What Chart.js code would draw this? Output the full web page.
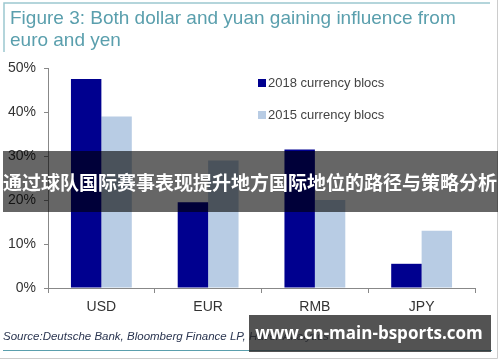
<!DOCTYPE html>
<html>
<head>
<meta charset="utf-8">
<script src="https://cdn.jsdelivr.net/npm/chart.js@4"></script>
<style>
  html, body { margin: 0; padding: 0; background: #fff; }
  #wrap { width: 500px; height: 362px; position: relative; }
</style>
</head>
<body>
<div id="wrap"><canvas id="currencies" width="500" height="362"></canvas></div>
<script>
// chart data
const categories = ['USD', 'EUR', 'RMB', 'JPY'];
const blocs2018 = [47.5, 19.5, 31.5, 5.5];
const blocs2015 = [39, 29, 20, 13];
const seriesLabels = ['2018 currency blocs', '2015 currency blocs'];
const yTicks = [0, 10, 20, 30, 40, 50];
const titleLines = ['Figure 3: Both dollar and yuan gaining influence from', 'euro and yen'];
const sourceText = 'Source:Deutsche Bank, Bloomberg Finance LP, Haver Analytics';
const bannerText = '通过球队国际赛事表现提升地方国际地位的路径与策略分析';
const watermarkText = 'www.cn-main-bsports.com';

const darkBlue = '#00008f';
const lightBlue = '#b8cce4';
const teal = '#5a9fad';

// title, legend, source line
const decorations = {
  id: 'decorations',
  beforeDraw(chart) {
    const ctx = chart.ctx;
    ctx.save();
    ctx.fillStyle = '#fff';
    ctx.fillRect(0, 0, chart.width, chart.height);
    // frame
    ctx.strokeStyle = '#9cc7cf';
    ctx.lineWidth = 1.5;
    ctx.beginPath();
    ctx.moveTo(4, 52); ctx.lineTo(4, 3); ctx.lineTo(490, 3);
    ctx.stroke();
    ctx.fillStyle = teal;
    ctx.font = '19px "Liberation Sans", Arial, sans-serif';
    ctx.textBaseline = 'middle';
    ctx.fillText(titleLines[0], 10, 19);
    ctx.fillText(titleLines[1], 10, 41);
    // source
    ctx.fillStyle = '#2a3550';
    ctx.font = 'italic 11.5px "Liberation Sans", Arial, sans-serif';
    ctx.fillText(sourceText, 3, 337);
    ctx.strokeStyle = teal;
    ctx.lineWidth = 1;
    ctx.beginPath();
    ctx.moveTo(3, 350.5); ctx.lineTo(492, 350.5);
    ctx.stroke();
    ctx.strokeStyle = '#ccc';
    ctx.beginPath();
    ctx.moveTo(497.5, 0); ctx.lineTo(497.5, 358.5); ctx.lineTo(0, 358.5);
    ctx.stroke();
    ctx.restore();
  },
  afterDatasetsDraw(chart) {
    const ctx = chart.ctx;
    ctx.save();
    // legend
    ctx.font = '13px "Liberation Sans", Arial, sans-serif';
    ctx.textBaseline = 'middle';
    chart.data.datasets.forEach((ds, i) => {
      const y = 83 + i * 32;
      ctx.fillStyle = ds.backgroundColor;
      ctx.fillRect(258, y - 4, 8, 8);
      ctx.fillStyle = '#444';
      ctx.fillText(ds.label, 268, y);
    });
    // banner overlay
    ctx.fillStyle = 'rgba(0,0,0,0.6)';
    ctx.fillRect(3, 151, 495, 61);
    ctx.fillStyle = '#fff';
    ctx.font = 'bold 19px "Noto Sans CJK SC", sans-serif';
    ctx.textAlign = 'center';
    ctx.fillText(bannerText, 250, 183);
    // watermark box
    ctx.fillStyle = 'rgba(40,40,40,0.8)';
    ctx.fillRect(249, 315, 242, 37);
    ctx.fillStyle = '#fff';
    ctx.font = 'bold 17px "Open Sans", "DejaVu Sans", sans-serif';
    ctx.fillText(watermarkText, 369, 334);
    ctx.restore();
  }
};

new Chart(document.getElementById('currencies'), {
  type: 'bar',
  data: {
    labels: categories,
    datasets: [
      { label: seriesLabels[0], data: blocs2018, backgroundColor: darkBlue,
        barPercentage: 1, categoryPercentage: 0.57 },
      { label: seriesLabels[1], data: blocs2015, backgroundColor: lightBlue,
        barPercentage: 1, categoryPercentage: 0.57 }
    ]
  },
  options: {
    responsive: false,
    animation: false,
    devicePixelRatio: 1,
    layout: { padding: { left: 0, right: 25, top: 68, bottom: 0 } },
    plugins: { legend: { display: false }, tooltip: { enabled: false } },
    scales: {
      x: {
        afterFit(scale) { scale.height = 74; },
        grid: { drawOnChartArea: false, drawTicks: true, tickLength: 5, color: '#888', offset: true },
        border: { display: true, color: '#888', width: 1 },
        ticks: { color: '#333', padding: 6, font: { size: 14, family: '"Liberation Sans", Arial, sans-serif' } }
      },
      y: {
        min: 0,
        max: 50,
        afterFit(scale) { scale.width = 48; },
        afterBuildTicks(scale) { scale.ticks = yTicks.map(v => ({ value: v })); },
        grid: { drawOnChartArea: false, drawTicks: true, tickLength: 4, color: '#888' },
        border: { display: true, color: '#888', width: 1 },
        ticks: {
          color: '#333', padding: 8,
          font: { size: 14, family: '"Liberation Sans", Arial, sans-serif' },
          callback: v => v + '%'
        }
      }
    }
  },
  plugins: [decorations]
});
</script>
</body>
</html>
